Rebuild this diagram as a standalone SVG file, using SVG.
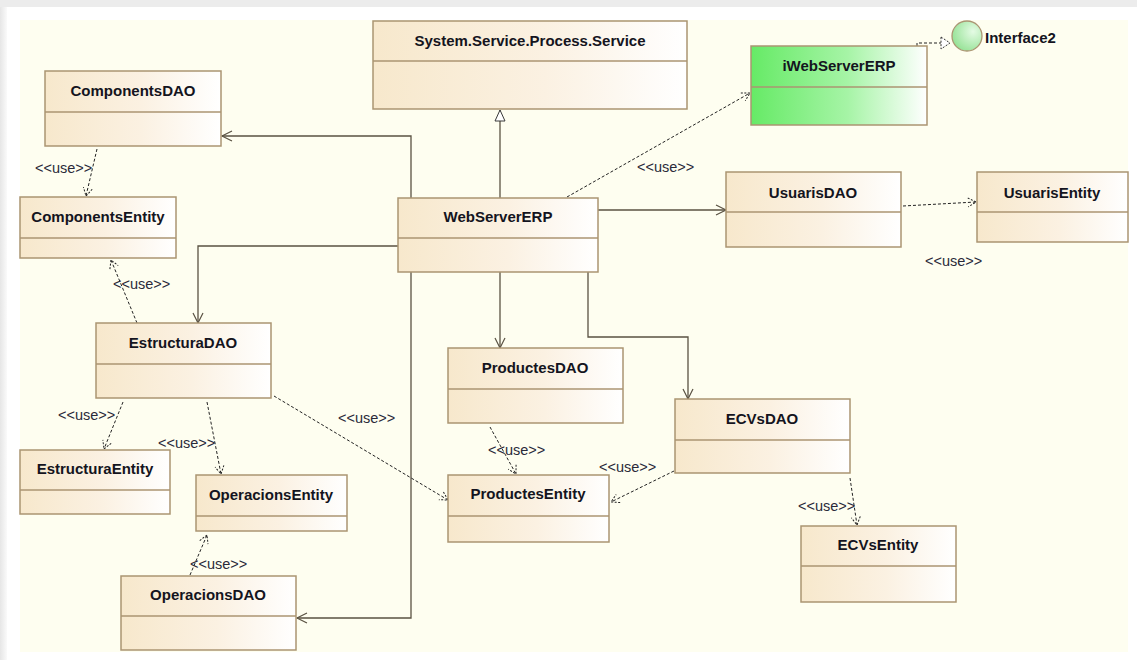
<svg xmlns="http://www.w3.org/2000/svg" width="1137" height="660" viewBox="0 0 1137 660">
<defs>
<linearGradient id="beige" x1="0" y1="0" x2="1" y2="0">
<stop offset="0" stop-color="#f7e8cc"/>
<stop offset="0.55" stop-color="#fbf1e2"/>
<stop offset="1" stop-color="#ffffff"/>
</linearGradient>
<linearGradient id="green" x1="0" y1="0" x2="1" y2="0">
<stop offset="0" stop-color="#66ea66"/>
<stop offset="0.55" stop-color="#a6f4a6"/>
<stop offset="1" stop-color="#ffffff"/>
</linearGradient>
<radialGradient id="ball" cx="0.7" cy="0.35" r="0.8">
<stop offset="0" stop-color="#e4fbe4"/>
<stop offset="1" stop-color="#8fe08f"/>
</radialGradient>
<linearGradient id="leftshade" x1="0" y1="0" x2="1" y2="0">
<stop offset="0" stop-color="#e6e6e6"/>
<stop offset="1" stop-color="#fafafa"/>
</linearGradient>
<marker id="open" markerUnits="userSpaceOnUse" markerWidth="14" markerHeight="14" refX="11" refY="6" orient="auto">
<path d="M1,1 L11,6 L1,11" fill="none" stroke="#5a5242" stroke-width="1.2"/>
</marker>
<marker id="dopen" markerUnits="userSpaceOnUse" markerWidth="14" markerHeight="14" refX="10" refY="6" orient="auto">
<path d="M2,1.5 L10,6 L2,10.5" fill="none" stroke="#222" stroke-width="1" stroke-dasharray="2,1.5"/>
</marker>
<marker id="tri" markerUnits="userSpaceOnUse" markerWidth="16" markerHeight="16" refX="12" refY="6" orient="auto">
<path d="M1,1 L12,6 L1,11 Z" fill="#fff" stroke="#3a3a3a" stroke-width="1"/>
</marker>
</defs>
<style>
.box{fill:url(#beige);stroke:#ab9572;stroke-width:1.5}
.gbox{fill:url(#green);stroke:#ab9572;stroke-width:1.5}
.div{stroke:#ab9572;stroke-width:1.5}
.name{font-family:"Liberation Sans",Arial,sans-serif;font-weight:bold;font-size:15px;fill:#141420;text-anchor:middle}
.lbl{font-family:"Liberation Sans",Arial,sans-serif;font-size:14.5px;fill:#2a2a3a}
.solid{fill:none;stroke:#5a5242;stroke-width:1.3}
.dash{fill:none;stroke:#222;stroke-width:1;stroke-dasharray:3,2}
</style>
<rect x="0" y="0" width="1137" height="660" fill="#ffffff"/>
<rect x="0" y="0" width="1137" height="7" fill="#ececec"/>
<rect x="0" y="7" width="7" height="653" fill="url(#leftshade)"/>
<rect x="20" y="20" width="1108" height="632" fill="#fefef0"/>

<g id="connectors">
<path class="solid" d="M500,198 L500,110" marker-end="url(#tri)"/>
<path class="solid" d="M411,198 L411,136 L222,136" marker-end="url(#open)"/>
<path class="solid" d="M398,246 L198,246 L198,323" marker-end="url(#open)"/>
<path class="solid" d="M411,272 L411,618 L297,618" marker-end="url(#open)"/>
<path class="solid" d="M500,272 L500,348" marker-end="url(#open)"/>
<path class="solid" d="M588,272 L588,337 L688,337 L688,399" marker-end="url(#open)"/>
<path class="solid" d="M598,210 L726,210" marker-end="url(#open)"/>
<path class="dash" d="M567,197 L750,93" marker-end="url(#dopen)"/>
<path class="dash" d="M917,46 L917,43 L941,43"/>
<path d="M941,37 L950,43 L941,49 Z" fill="#fff" stroke="#333" stroke-width="1" stroke-dasharray="2,1.5"/>
<path class="dash" d="M903,206 L976,202" marker-end="url(#dopen)"/>
<path class="dash" d="M97,149 L86,196" marker-end="url(#dopen)"/>
<path class="dash" d="M137,323 L111,260" marker-end="url(#dopen)"/>
<path class="dash" d="M123,402 L104,449" marker-end="url(#dopen)"/>
<path class="dash" d="M207,402 L221,474" marker-end="url(#dopen)"/>
<path class="dash" d="M190,575 L207,535" marker-end="url(#dopen)"/>
<path class="dash" d="M274,396 L448,500" marker-end="url(#dopen)"/>
<path class="dash" d="M490,427 L516,474" marker-end="url(#dopen)"/>
<path class="dash" d="M674,471 L611,502" marker-end="url(#dopen)"/>
<path class="dash" d="M850,478 L857,525" marker-end="url(#dopen)"/>
<text class="lbl" x="637" y="172">&lt;&lt;use&gt;&gt;</text>
<text class="lbl" x="925" y="266">&lt;&lt;use&gt;&gt;</text>
<text class="lbl" x="35" y="173">&lt;&lt;use&gt;&gt;</text>
<text class="lbl" x="113" y="289">&lt;&lt;use&gt;&gt;</text>
<text class="lbl" x="58" y="420">&lt;&lt;use&gt;&gt;</text>
<text class="lbl" x="158" y="448">&lt;&lt;use&gt;&gt;</text>
<text class="lbl" x="190" y="569">&lt;&lt;use&gt;&gt;</text>
<text class="lbl" x="338" y="423">&lt;&lt;use&gt;&gt;</text>
<text class="lbl" x="488" y="455">&lt;&lt;use&gt;&gt;</text>
<text class="lbl" x="599" y="472">&lt;&lt;use&gt;&gt;</text>
<text class="lbl" x="798" y="511">&lt;&lt;use&gt;&gt;</text>
</g>

<g id="SystemServiceProcessService">
<rect class="box" x="373" y="21" width="314" height="88"/>
<line class="div" x1="373" y1="61" x2="687" y2="61"/>
<text class="name" x="530" y="46">System.Service.Process.Service</text>
</g>
<g id="ComponentsDAO">
<rect class="box" x="45" y="71" width="176" height="75"/>
<line class="div" x1="45" y1="112" x2="221" y2="112"/>
<text class="name" x="133" y="96">ComponentsDAO</text>
</g>
<g id="ComponentsEntity">
<rect class="box" x="20" y="197" width="156" height="61"/>
<line class="div" x1="20" y1="238" x2="176" y2="238"/>
<text class="name" x="98" y="222">ComponentsEntity</text>
</g>
<g id="WebServerERP">
<rect class="box" x="398" y="198" width="200" height="74"/>
<line class="div" x1="398" y1="238" x2="598" y2="238"/>
<text class="name" x="498" y="222">WebServerERP</text>
</g>
<g id="iWebServerERP">
<rect class="gbox" x="751" y="46" width="176" height="79"/>
<line class="div" x1="751" y1="87" x2="927" y2="87"/>
<text class="name" x="839" y="71">iWebServerERP</text>
</g>
<g id="Interface2">
<circle cx="967" cy="36" r="15" fill="url(#ball)" stroke="#ab9572" stroke-width="1.3"/>
<text class="name" x="985" y="43" style="text-anchor:start">Interface2</text>
</g>
<g id="UsuarisDAO">
<rect class="box" x="726" y="172" width="175" height="75"/>
<line class="div" x1="726" y1="212" x2="901" y2="212"/>
<text class="name" x="813" y="198">UsuarisDAO</text>
</g>
<g id="UsuarisEntity">
<rect class="box" x="977" y="172" width="151" height="70"/>
<line class="div" x1="977" y1="212" x2="1128" y2="212"/>
<text class="name" x="1052" y="198">UsuarisEntity</text>
</g>
<g id="EstructuraDAO">
<rect class="box" x="96" y="323" width="175" height="75"/>
<line class="div" x1="96" y1="364" x2="271" y2="364"/>
<text class="name" x="183" y="348">EstructuraDAO</text>
</g>
<g id="EstructuraEntity">
<rect class="box" x="20" y="450" width="150" height="64"/>
<line class="div" x1="20" y1="490" x2="170" y2="490"/>
<text class="name" x="95" y="474">EstructuraEntity</text>
</g>
<g id="OperacionsEntity">
<rect class="box" x="196" y="475" width="151" height="56"/>
<line class="div" x1="196" y1="516" x2="347" y2="516"/>
<text class="name" x="271" y="500">OperacionsEntity</text>
</g>
<g id="OperacionsDAO">
<rect class="box" x="121" y="576" width="175" height="74"/>
<line class="div" x1="121" y1="616" x2="296" y2="616"/>
<text class="name" x="208" y="600">OperacionsDAO</text>
</g>
<g id="ProductesDAO">
<rect class="box" x="448" y="348" width="175" height="75"/>
<line class="div" x1="448" y1="389" x2="623" y2="389"/>
<text class="name" x="535" y="373">ProductesDAO</text>
</g>
<g id="ProductesEntity">
<rect class="box" x="448" y="475" width="161" height="67"/>
<line class="div" x1="448" y1="516" x2="609" y2="516"/>
<text class="name" x="528" y="499">ProductesEntity</text>
</g>
<g id="ECVsDAO">
<rect class="box" x="675" y="399" width="175" height="74"/>
<line class="div" x1="675" y1="440" x2="850" y2="440"/>
<text class="name" x="762" y="424">ECVsDAO</text>
</g>
<g id="ECVsEntity">
<rect class="box" x="801" y="526" width="155" height="76"/>
<line class="div" x1="801" y1="566" x2="956" y2="566"/>
<text class="name" x="878" y="550">ECVsEntity</text>
</g>
</svg>
